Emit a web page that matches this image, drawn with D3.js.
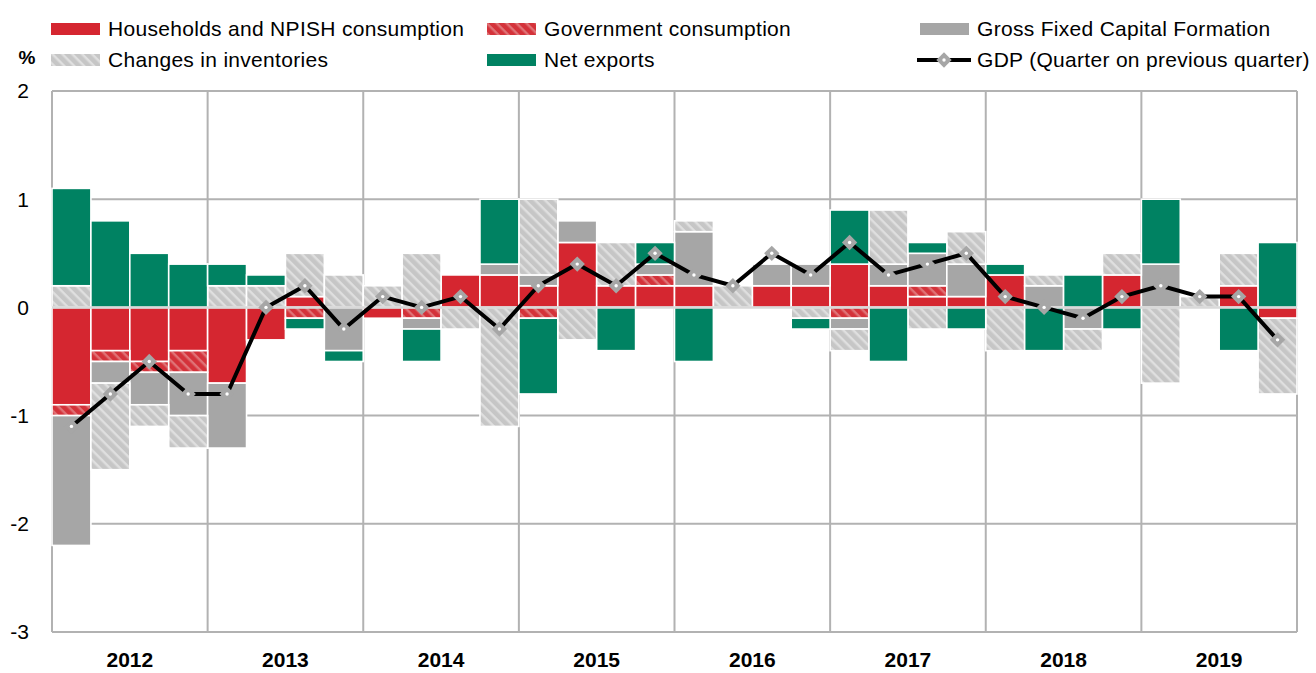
<!DOCTYPE html>
<html>
<head>
<meta charset="utf-8">
<script src="https://cdn.jsdelivr.net/npm/d3@7"></script>
<style>
  html, body { margin: 0; padding: 0; background: #fff; }
  svg { display: block; font-family: "Liberation Sans", Arial, sans-serif; }
</style>
</head>
<body>
<svg id="chart" width="1316" height="673"></svg>
<script>
// ---------------- data ----------------
const quarters = [
  "2012Q1","2012Q2","2012Q3","2012Q4",
  "2013Q1","2013Q2","2013Q3","2013Q4",
  "2014Q1","2014Q2","2014Q3","2014Q4",
  "2015Q1","2015Q2","2015Q3","2015Q4",
  "2016Q1","2016Q2","2016Q3","2016Q4",
  "2017Q1","2017Q2","2017Q3","2017Q4",
  "2018Q1","2018Q2","2018Q3","2018Q4",
  "2019Q1","2019Q2","2019Q3","2019Q4"
];
const years = ["2012","2013","2014","2015","2016","2017","2018","2019"];

const households = [-0.9,-0.4,-0.5,-0.4, -0.7,-0.3,0.1,0, -0.1,0,0.3,0.3, 0.2,0.6,0.2,0.2, 0.2,0,0.2,0.2, 0.4,0.2,0.1,0.1, 0.3,0,0,0.3, 0,0,0.2,-0.1];
const government = [-0.1,-0.1,-0.1,-0.2, 0,0,-0.1,0, 0,-0.1,0,0, -0.1,0,0,0.1, 0,0,0,0, -0.1,0,0.1,0, 0,0,0,0, 0,0,0,0];
const gfcf       = [-1.2,-0.2,-0.3,-0.4, -0.6,0,0,-0.4, 0,-0.1,0,0.1, 0.1,0.2,0,0.1, 0.5,0,0.2,0.2, -0.1,0.2,0.3,0.3, 0,0.2,-0.2,0, 0.4,0,0,0];
const inventories= [0.2,-0.8,-0.2,-0.3, 0.2,0.2,0.4,0.3, 0.2,0.5,-0.2,-1.1, 0.7,-0.3,0.4,0, 0.1,0.2,0,-0.1, -0.2,0.5,-0.2,0.3, -0.4,0.1,-0.2,0.2, -0.7,0.1,0.3,-0.7];
const netExports = [0.9,0.8,0.5,0.4, 0.2,0.1,-0.1,-0.1, 0,-0.3,0,0.6, -0.7,0,-0.4,0.2, -0.5,0,0,-0.1, 0.5,-0.5,0.1,-0.2, 0.1,-0.4,0.3,-0.2, 0.6,0,-0.4,0.6];
const gdp        = [-1.1,-0.8,-0.5,-0.8, -0.8,0.0,0.2,-0.2, 0.1,0.0,0.1,-0.2, 0.2,0.4,0.2,0.5, 0.3,0.2,0.5,0.3, 0.6,0.3,0.4,0.5, 0.1,0.0,-0.1,0.1, 0.2,0.1,0.1,-0.3];

const yTicks = [2, 1, 0, -1, -2, -3];

const seriesKeys = ["hh","gov","gfcf","inv","nx"];
const seriesNames = {
  hh: "Households and NPISH consumption",
  gov: "Government consumption",
  gfcf: "Gross Fixed Capital Formation",
  inv: "Changes in inventories",
  nx: "Net exports",
  gdp: "GDP (Quarter on previous quarter)"
};

// ---------------- build ----------------
const table = quarters.map((q, i) => ({
  q, hh: households[i], gov: government[i], gfcf: gfcf[i], inv: inventories[i], nx: netExports[i], gdp: gdp[i]
}));

const svg = d3.select("#chart");
const L = 52, R = 1297, T = 91, B = 632;

const x = d3.scaleBand().domain(quarters).range([L, R]).padding(0);
const y = d3.scaleLinear().domain([-3, 2]).range([B, T]);

const defs = svg.append("defs");
function hatch(id, base, stripe) {
  const p = defs.append("pattern").attr("id", id)
    .attr("patternUnits", "userSpaceOnUse").attr("width", 7).attr("height", 7)
    .attr("patternTransform", "rotate(45)");
  p.append("rect").attr("width", 7).attr("height", 7).attr("fill", base);
  p.append("rect").attr("x", 0).attr("y", 0).attr("width", 7).attr("height", 2.4).attr("fill", stripe);
}
hatch("hatchRed", "#d4323a", "#df7276");
hatch("hatchGray", "#c6c6c6", "#dfdfdf");

const fills = { hh: "#d52630", gov: "url(#hatchRed)", gfcf: "#a6a6a6", inv: "url(#hatchGray)", nx: "#008262" };

// gridlines
const grid = svg.append("g");
grid.selectAll("line.h").data(yTicks.filter(t => t !== 0)).enter().append("line")
  .attr("x1", L).attr("x2", R).attr("y1", d => y(d)).attr("y2", d => y(d))
  .attr("stroke", "#b2b2b2").attr("stroke-width", 2);
const yearBounds = d3.range(0, years.length + 1).map(k => k * 4);
grid.selectAll("line.v").data(yearBounds).enter().append("line")
  .attr("x1", k => k < quarters.length ? x(quarters[k]) : R)
  .attr("x2", k => k < quarters.length ? x(quarters[k]) : R)
  .attr("y1", T).attr("y2", B)
  .attr("stroke", "#b2b2b2").attr("stroke-width", 2);

// stacked bars
const stack = d3.stack().keys(seriesKeys).offset(d3.stackOffsetDiverging);
const stacked = stack(table);
svg.append("g").selectAll("g").data(stacked).enter().append("g")
  .attr("fill", s => fills[s.key])
  .selectAll("rect").data(s => s.filter(d => d[1] - d[0] !== 0)).enter().append("rect")
  .attr("x", d => x(d.data.q))
  .attr("width", x.bandwidth())
  .attr("y", d => y(Math.max(d[0], d[1])))
  .attr("height", d => Math.abs(y(d[0]) - y(d[1])))
  .attr("stroke", "#fff").attr("stroke-width", 1.6);

// zero line
svg.append("line").attr("x1", L).attr("x2", R).attr("y1", y(0)).attr("y2", y(0))
  .attr("stroke", "#d9d9d9").attr("stroke-width", 2.5);

// GDP line
const line = d3.line().x(d => x(d.q) + x.bandwidth() / 2).y(d => y(d.gdp));
svg.append("path").datum(table).attr("d", line)
  .attr("fill", "none").attr("stroke", "#000").attr("stroke-width", 4).attr("stroke-linejoin", "round");
const diamond = d3.symbol().type(d3.symbolDiamond2).size(150);
const mk = svg.append("g").selectAll("g").data(table).enter().append("g")
  .attr("transform", d => `translate(${x(d.q) + x.bandwidth() / 2},${y(d.gdp)})`);
mk.append("path").attr("d", diamond).attr("fill", "#a6a6a6");
mk.append("circle").attr("r", 1.7).attr("fill", "#fff");

// y-axis labels
svg.append("g").selectAll("text").data(yTicks).enter().append("text")
  .attr("x", 29).attr("y", d => y(d)).attr("dy", "0.35em")
  .attr("text-anchor", "end").attr("font-size", 21).attr("fill", "#000")
  .text(d => d);
svg.append("text").attr("x", 27).attr("y", 64).attr("text-anchor", "middle")
  .attr("font-size", 19).attr("font-weight", "bold").text("%");

// year labels
svg.append("g").selectAll("text").data(years).enter().append("text")
  .attr("x", (d, i) => (x(quarters[i * 4]) + x(quarters[i * 4 + 3]) + x.bandwidth()) / 2)
  .attr("y", 667).attr("text-anchor", "middle")
  .attr("font-size", 21).attr("font-weight", "bold").text(d => d);

// legend
const legendItems = [
  { key: "hh", sx: 51, row: 0 },
  { key: "gov", sx: 487, row: 0 },
  { key: "gfcf", sx: 920, row: 0 },
  { key: "inv", sx: 51, row: 1 },
  { key: "nx", sx: 487, row: 1 },
  { key: "gdp", sx: 920, row: 1 }
];
const rowY = [29, 60];
const lg = svg.append("g").selectAll("g").data(legendItems).enter().append("g");
lg.each(function(d) {
  const g = d3.select(this);
  const cy = rowY[d.row];
  if (d.key === "gdp") {
    g.append("line").attr("x1", d.sx - 3).attr("x2", d.sx + 51).attr("y1", cy).attr("y2", cy)
      .attr("stroke", "#000").attr("stroke-width", 4);
    g.append("path").attr("d", diamond).attr("transform", `translate(${d.sx + 24},${cy})`).attr("fill", "#a6a6a6");
    g.append("circle").attr("cx", d.sx + 24).attr("cy", cy).attr("r", 1.7).attr("fill", "#fff");
  } else {
    g.append("rect").attr("x", d.sx).attr("y", cy - 6).attr("width", 49).attr("height", 12)
      .attr("fill", fills[d.key]);
  }
  g.append("text").attr("x", d.sx + 57).attr("y", cy).attr("dy", "0.35em")
    .attr("font-size", 21).attr("letter-spacing", 0.3).text(seriesNames[d.key]);
});
</script>
</body>
</html>
